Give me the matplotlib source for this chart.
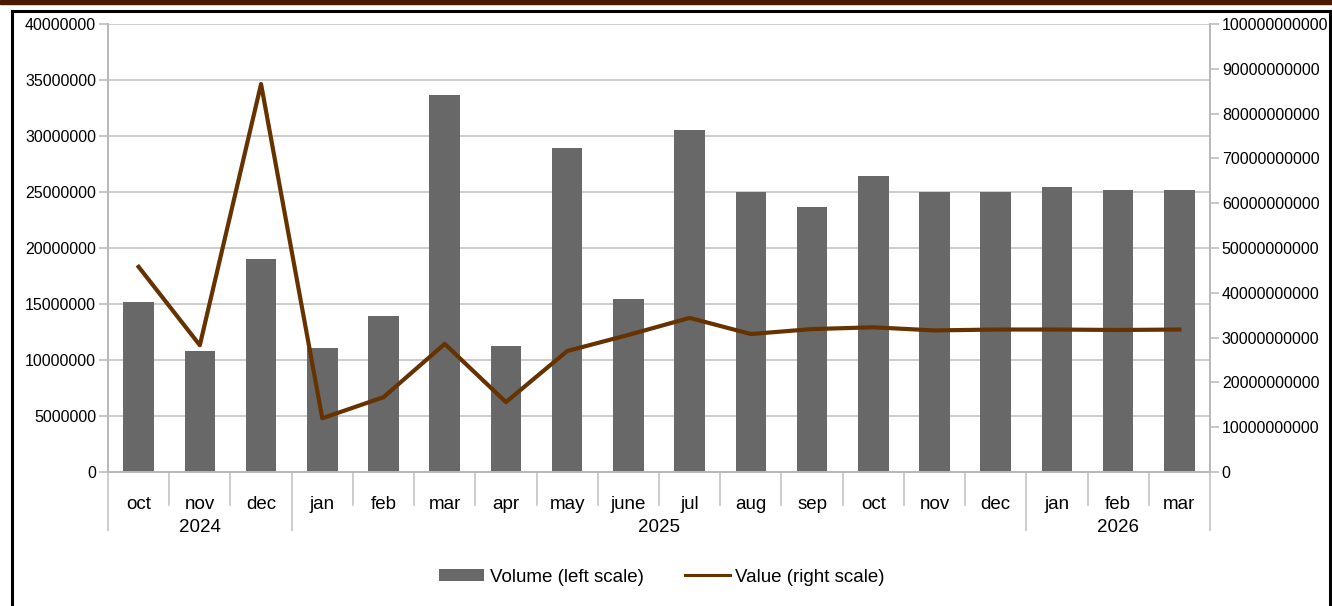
import matplotlib
matplotlib.use("Agg")
import matplotlib.pyplot as plt
import matplotlib.transforms as mtransforms
from matplotlib.lines import Line2D
from matplotlib.patches import Rectangle, Patch
import numpy as np

plt.rcParams['font.family'] = ['Liberation Sans', 'DejaVu Sans']

# data
months = ['oct', 'nov', 'dec', 'jan', 'feb', 'mar', 'apr', 'may', 'june',
          'jul', 'aug', 'sep', 'oct', 'nov', 'dec', 'jan', 'feb', 'mar']
years = ['2024', '2025', '2026']
year_counts = [3, 12, 3]
volume = [15.2e6, 10.8e6, 19.0e6, 11.05e6, 13.9e6, 33.65e6, 11.25e6, 28.9e6, 15.45e6,
          30.5e6, 25.0e6, 23.65e6, 26.4e6, 25.0e6, 25.0e6, 25.45e6, 25.15e6, 25.15e6]
value = [45.8e9, 28.3e9, 86.6e9, 12.0e9, 16.7e9, 28.6e9, 15.6e9, 27.0e9, 30.6e9,
         34.4e9, 30.8e9, 31.9e9, 32.3e9, 31.6e9, 31.8e9, 31.8e9, 31.7e9, 31.8e9]

W, H = 1332, 606
fig = plt.figure(figsize=(W / 100, H / 100), dpi=100)

# outer decorations: brown band and black frame
fig.patches.append(Rectangle((0, 1 - 3.5 / H), 1, 3.5 / H, transform=fig.transFigure,
                             color='#4a1a00', zorder=0))
frame_kw = dict(transform=fig.transFigure, color='black', lw=2.2)
fig.lines.append(Line2D([12 / W, 1330 / W], [1 - 11 / H, 1 - 11 / H], **frame_kw))
fig.lines.append(Line2D([12 / W, 12 / W], [0, 1 - 11 / H], **frame_kw))
fig.lines.append(Line2D([1330 / W, 1330 / W], [0, 1 - 11 / H], **frame_kw))

ax = fig.add_axes([108 / W, (H - 472) / H, 1102 / W, 448 / H])
x = np.arange(len(months))

ax.bar(x, volume, width=0.5, color='#686868', zorder=2)
ax.set_xlim(-0.5, len(months) - 0.5)
ax.set_ylim(0, 40e6)
ax.set_yticks(np.arange(0, 40e6 + 1, 5e6))
ax.set_yticklabels([str(int(v)) for v in np.arange(0, 40e6 + 1, 5e6)])
ax.grid(axis='y', color='#c4c4c4', lw=1.2, zorder=0)
ax.set_axisbelow(True)

ax2 = ax.twinx()
ax2.plot(x, value, color='#663300', lw=3, zorder=3)
ax2.set_ylim(0, 100e9)
ax2.set_yticks(np.arange(0, 100e9 + 1, 10e9))
ax2.set_yticklabels([str(int(v)) for v in np.arange(0, 100e9 + 1, 10e9)])

for a in (ax, ax2):
    a.spines['top'].set_visible(False)
    for s in ('left', 'right', 'bottom'):
        a.spines[s].set_color('#b8b8b8')
        a.spines[s].set_linewidth(1.2)
    a.tick_params(axis='y', length=6.5, width=1.1, color='#b8b8b8',
                  labelsize=11.5, pad=2)

ax.set_xticks(x)
ax.set_xticklabels(months, fontsize=13.5)
ax.tick_params(axis='x', length=0, pad=17)

# category separators below the axis
trans = mtransforms.blended_transform_factory(ax.transData, ax.transAxes)
bounds = np.cumsum([0] + year_counts) - 0.5
for b in np.arange(-0.5, len(months)):
    long_sep = np.any(np.isclose(bounds, b))
    y_end = -58 / 448 if long_sep else -33 / 448
    ax.plot([b, b], [0, y_end], transform=trans, color='#c4c4c4', lw=1.2, clip_on=False)

# year labels centred under their months
for yr, lo, hi in zip(years, bounds[:-1], bounds[1:]):
    ax.text((lo + hi) / 2, -55 / 448, yr, transform=trans, ha='center', va='center',
            fontsize=13.5)

handles = [Patch(facecolor='#686868', edgecolor='none'),
           Line2D([], [], color='#663300', lw=2.2)]
labels = ['Volume (left scale)', 'Value (right scale)']
fig.legend(handles, labels, loc='center', bbox_to_anchor=(662 / W, 1 - 577 / H),
           ncol=2, frameon=False, fontsize=13.5, handlelength=2.4, handleheight=0.55,
           columnspacing=2.2, handletextpad=0.3)

fig.savefig('out.png', dpi=100)
